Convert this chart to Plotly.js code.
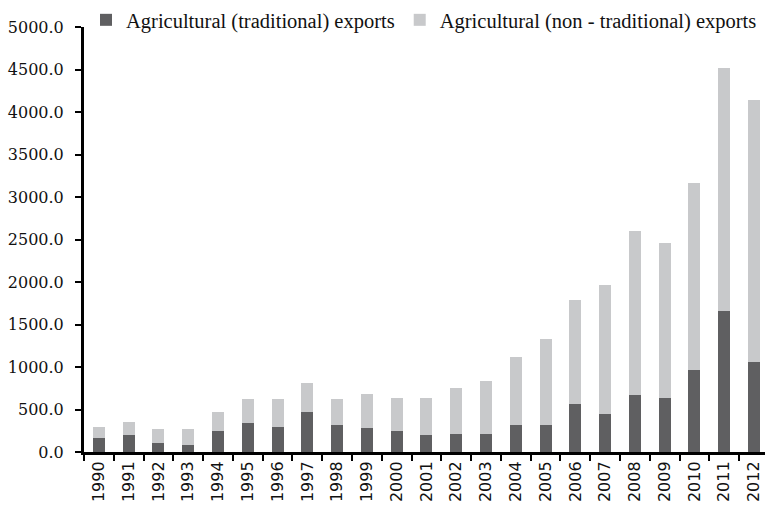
<!DOCTYPE html>
<html>
<head>
<meta charset="utf-8">
<script src="https://cdn.plot.ly/plotly-3.0.1.min.js"></script>
<style>html,body{margin:0;padding:0;background:#fff;}#chart{width:765px;height:507px;}</style>
</head>
<body>
<div id="chart"></div>
<script>
const years = ['1990','1991','1992','1993','1994','1995','1996','1997','1998','1999','2000','2001','2002','2003','2004','2005','2006','2007','2008','2009','2010','2011','2012'];
const traditional = [169,200,102,79,243,338,294,467,314,279,243,200,206,214,312,320,560,450,676,630,970,1664,1062];
const nonTraditional = [125,149,173,188,224,282,326,341,306,408,397,440,549,623,807,1011,1230,1516,1920,1825,2191,2848,3074];
const seriesNames = ['Agricultural (traditional) exports','Agricultural (non - traditional) exports'];

const data = [
  {type:'bar', x: years, y: traditional, name: seriesNames[0], marker:{color:'#5f5f61'}},
  {type:'bar', x: years, y: nonTraditional, name: seriesNames[1], marker:{color:'#c8c9cb'}}
];
const layout = {
  width:765, height:507,
  margin:{l:84, r:0, t:27, b:55},
  barmode:'stack', bargap:0.6,
  paper_bgcolor:'#fff', plot_bgcolor:'#fff',
  showlegend:true,
  legend:{orientation:'h', xref:'paper', yref:'paper', x:2/681, xanchor:'left', y:1+7/425, yanchor:'middle',
          font:{family:'Liberation Serif', size:20.5, color:'#111'}, bgcolor:'rgba(0,0,0,0)', traceorder:'normal', borderwidth:0},
  xaxis:{type:'category', range:[-0.5,22.37], showline:true, linecolor:'#000', linewidth:3,
         ticks:'outside', tickson:'boundaries', ticklen:6, tickwidth:2, tickcolor:'#000',
         tickangle:-90, tickfont:{family:'DejaVu Sans', size:16, color:'#111'}, showgrid:false, zeroline:false},
  yaxis:{range:[0,5000], dtick:500, tickformat:'.1f', showline:true, linecolor:'#000', linewidth:3,
         ticks:'outside', ticklen:6, tickwidth:2, tickcolor:'#000', ticklabelstandoff:8,
         tickfont:{family:'DejaVu Serif', size:16, color:'#111'}, showgrid:false, zeroline:false}
};
Plotly.newPlot('chart', data, layout, {displayModeBar:false, staticPlot:true});
</script>
</body>
</html>
